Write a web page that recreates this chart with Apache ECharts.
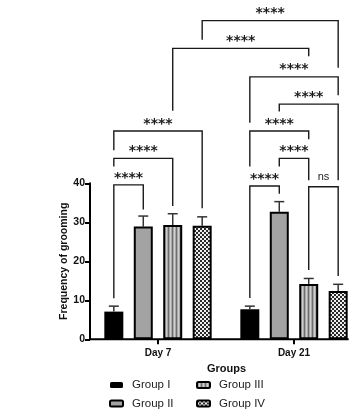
<!DOCTYPE html>
<html>
<head>
<meta charset="utf-8">
<script src="https://cdn.jsdelivr.net/npm/echarts@6/dist/echarts.min.js"></script>
<style>
html,body{margin:0;padding:0;background:#fff;}
#chart{width:362px;height:418px;}
</style>
</head>
<body>
<div id="chart"></div>
<script>
// ---- data ----
const categories = ['Day 7', 'Day 21'];
const groupNames = ['Group I', 'Group II', 'Group III', 'Group IV'];
const groupI = [7.1, 7.7];
const groupII = [28.9, 32.7];
const groupIII = [29.3, 14.2];
const groupIV = [29.1, 12.4];
const errI = [1.4, 0.8];
const errII = [2.7, 2.6];
const errIII = [2.9, 1.4];
const errIV = [2.3, 1.7];
const yTicks = [0, 10, 20, 30, 40];
// brackets: [cat1, group1, cat2, group2, level, leftLegEnd, rightLegEnd, label]
const brackets = [
  [0, 3, 1, 3, 81.7, 76.8, 69.6, '****'],
  [0, 2, 1, 2, 74.6, 58.6, 72.6, '****'],
  [1, 0, 1, 3, 67.3, 55.5, 62.6, '****'],
  [1, 1, 1, 3, 60.3, 58.4, 40.8, '****'],
  [1, 0, 1, 2, 53.4, 44.3, 51.3, '****'],
  [1, 1, 1, 2, 46.4, 44.3, 40.8, '****'],
  [1, 0, 1, 1, 39.3, 10.6, 37.3, '****'],
  [1, 2, 1, 3, 39.1, 17.8, 16.2, 'ns'],
  [0, 0, 0, 3, 53.4, 48.5, 33.6, '****'],
  [0, 0, 0, 2, 46.4, 44.3, 34.2, '****'],
  [0, 0, 0, 1, 39.6, 10.5, 33.3, '****']
];

const values = [groupI, groupII, groupIII, groupIV];
const errs = [errI, errII, errIII, errIV];

// ---- patterns ----
function stripePattern() {
  const c = document.createElement('canvas');
  c.width = 4; c.height = 4;
  const ctx = c.getContext('2d');
  const cols = ['#6e6e6e', '#a8a8a8', '#d0d0d0', '#a8a8a8'];
  for (let i = 0; i < 4; i++) { ctx.fillStyle = cols[i]; ctx.fillRect(i, 0, 1, 4); }
  return c;
}
function checkerPattern() {
  const c = document.createElement('canvas');
  c.width = 4; c.height = 4;
  const ctx = c.getContext('2d');
  ctx.fillStyle = '#efefef'; ctx.fillRect(0, 0, 4, 4);
  ctx.fillStyle = '#2a2a2a'; ctx.fillRect(0, 0, 2, 2); ctx.fillRect(2, 2, 2, 2);
  return c;
}
const fills = [
  '#000000',
  '#a3a3a3',
  { image: stripePattern(), repeat: 'repeat' },
  { image: checkerPattern(), repeat: 'repeat' }
];

const BAR_W = 19;
const BAR_GAP = 0.55;
const STEP = BAR_W * (1 + BAR_GAP);
function offsetOf(g) { return (g - 1.5) * STEP; }

const FONT = 'Liberation Sans, Arial, sans-serif';
const chart = echarts.init(document.getElementById('chart'), null, { renderer: 'canvas' });

const barSeries = groupNames.map((name, g) => ({
  name: name,
  type: 'bar',
  data: values[g],
  barWidth: BAR_W,
  barGap: (BAR_GAP * 100) + '%',
  itemStyle: { color: fills[g], borderColor: '#000', borderWidth: g === 0 ? 0 : 2 },
  z: 2
}));

const errData = [];
for (let g = 0; g < 4; g++) for (let c = 0; c < categories.length; c++) errData.push([c, values[g][c], errs[g][c], g]);

const errSeries = {
  type: 'custom',
  z: 1,
  clip: false,
  silent: true,
  data: errData,
  encode: { x: 0, y: 1 },
  renderItem: function (params, api) {
    const c = api.value(0), m = api.value(1), e = api.value(2), g = api.value(3);
    const p0 = api.coord([c, m]);
    const p1 = api.coord([c, m + e]);
    const x = p0[0] + offsetOf(g);
    const st = { stroke: '#333', lineWidth: 1.5 };
    return {
      type: 'group',
      children: [
        { type: 'line', shape: { x1: x, y1: p0[1], x2: x, y2: p1[1] }, style: st },
        { type: 'line', shape: { x1: x - 5, y1: p1[1], x2: x + 5, y2: p1[1] }, style: st }
      ]
    };
  }
};

const bracketSeries = {
  type: 'custom',
  z: 5,
  clip: false,
  silent: true,
  data: brackets.map((b, i) => [b[0], b[4], i]),
  encode: { x: 0, y: 1 },
  renderItem: function (params, api) {
    const b = brackets[api.value(2)];
    const xl = api.coord([b[0], 0])[0] + offsetOf(b[1]);
    const xr = api.coord([b[2], 0])[0] + offsetOf(b[3]);
    const yh = api.coord([0, b[4]])[1];
    const yl = api.coord([0, b[5]])[1];
    const yr = api.coord([0, b[6]])[1];
    const isNs = b[7] === 'ns';
    return {
      type: 'group',
      children: [
        { type: 'polyline', shape: { points: [[xl, yl], [xl, yh], [xr, yh], [xr, yr]] },
          style: { stroke: '#1a1a1a', lineWidth: 1.4, fill: null } },
        { type: 'text', x: (xl + xr) / 2, y: yh - (isNs ? 4 : 0),
          style: { text: b[7], fill: '#1a1a1a', align: 'center', verticalAlign: 'bottom',
            font: isNs ? ('normal 11px ' + FONT) : 'bold 14px DejaVu Sans, sans-serif' } }
      ]
    };
  }
};

const legendText = { color: '#222', fontFamily: FONT, fontSize: 11.5, lineHeight: 14, padding: [0, 0, 0, 4] };

const option = {
  animation: false,
  backgroundColor: '#fff',
  grid: { left: 90, top: 183.3, height: 156, width: 274, containLabel: false },
  xAxis: {
    type: 'category',
    data: categories,
    axisLine: { show: false },
    axisTick: { show: true, alignWithLabel: true, length: 5, lineStyle: { color: '#000', width: 2 } },
    axisLabel: { color: '#111', fontFamily: FONT, fontWeight: 'bold', fontSize: 10, margin: 9 },
    splitLine: { show: false }
  },
  yAxis: {
    type: 'value',
    min: yTicks[0],
    max: yTicks[yTicks.length - 1],
    interval: yTicks[1] - yTicks[0],
    name: 'Frequency of grooming',
    nameLocation: 'middle',
    nameGap: 20,
    nameMoveOverlap: false,
    nameTextStyle: { color: '#111', fontFamily: FONT, fontWeight: 'bold', fontSize: 10.5 },
    axisLine: { show: true, lineStyle: { color: '#000', width: 2 } },
    axisTick: { show: true, length: 5, lineStyle: { color: '#000', width: 2 } },
    axisLabel: { color: '#111', fontFamily: FONT, fontWeight: 'bold', fontSize: 10.5, margin: 5 },
    splitLine: { show: false }
  },
  legend: [
    {
      data: [groupNames[0], groupNames[1]],
      orient: 'vertical', left: 109, top: 378, padding: 0,
      itemWidth: 13, itemHeight: 6, itemGap: 4.5,
      textStyle: legendText
    },
    {
      data: [groupNames[2], groupNames[3]],
      orient: 'vertical', left: 196, top: 378, padding: 0,
      itemWidth: 13, itemHeight: 6, itemGap: 4.5,
      textStyle: legendText
    }
  ],
  series: barSeries.concat([errSeries, bracketSeries])
};
chart.setOption(option);

// x axis line from the y axis to the right edge of the last bar
const origin = chart.convertToPixel({ gridIndex: 0 }, [0, 0]);
const lastCenter = chart.convertToPixel({ gridIndex: 0 }, [categories.length - 1, 0]);
const xEnd = lastCenter[0] + offsetOf(3) + BAR_W / 2 + 1;
chart.setOption({
  graphic: [
    { type: 'text', left: 207, top: 363,
      style: { text: 'Groups', fill: '#111', font: 'bold 11px ' + FONT } },
    { type: 'line', z: 10, shape: { x1: 89, y1: origin[1], x2: xEnd, y2: origin[1] },
      style: { stroke: '#000', lineWidth: 2 } }
  ]
});
</script>
</body>
</html>
